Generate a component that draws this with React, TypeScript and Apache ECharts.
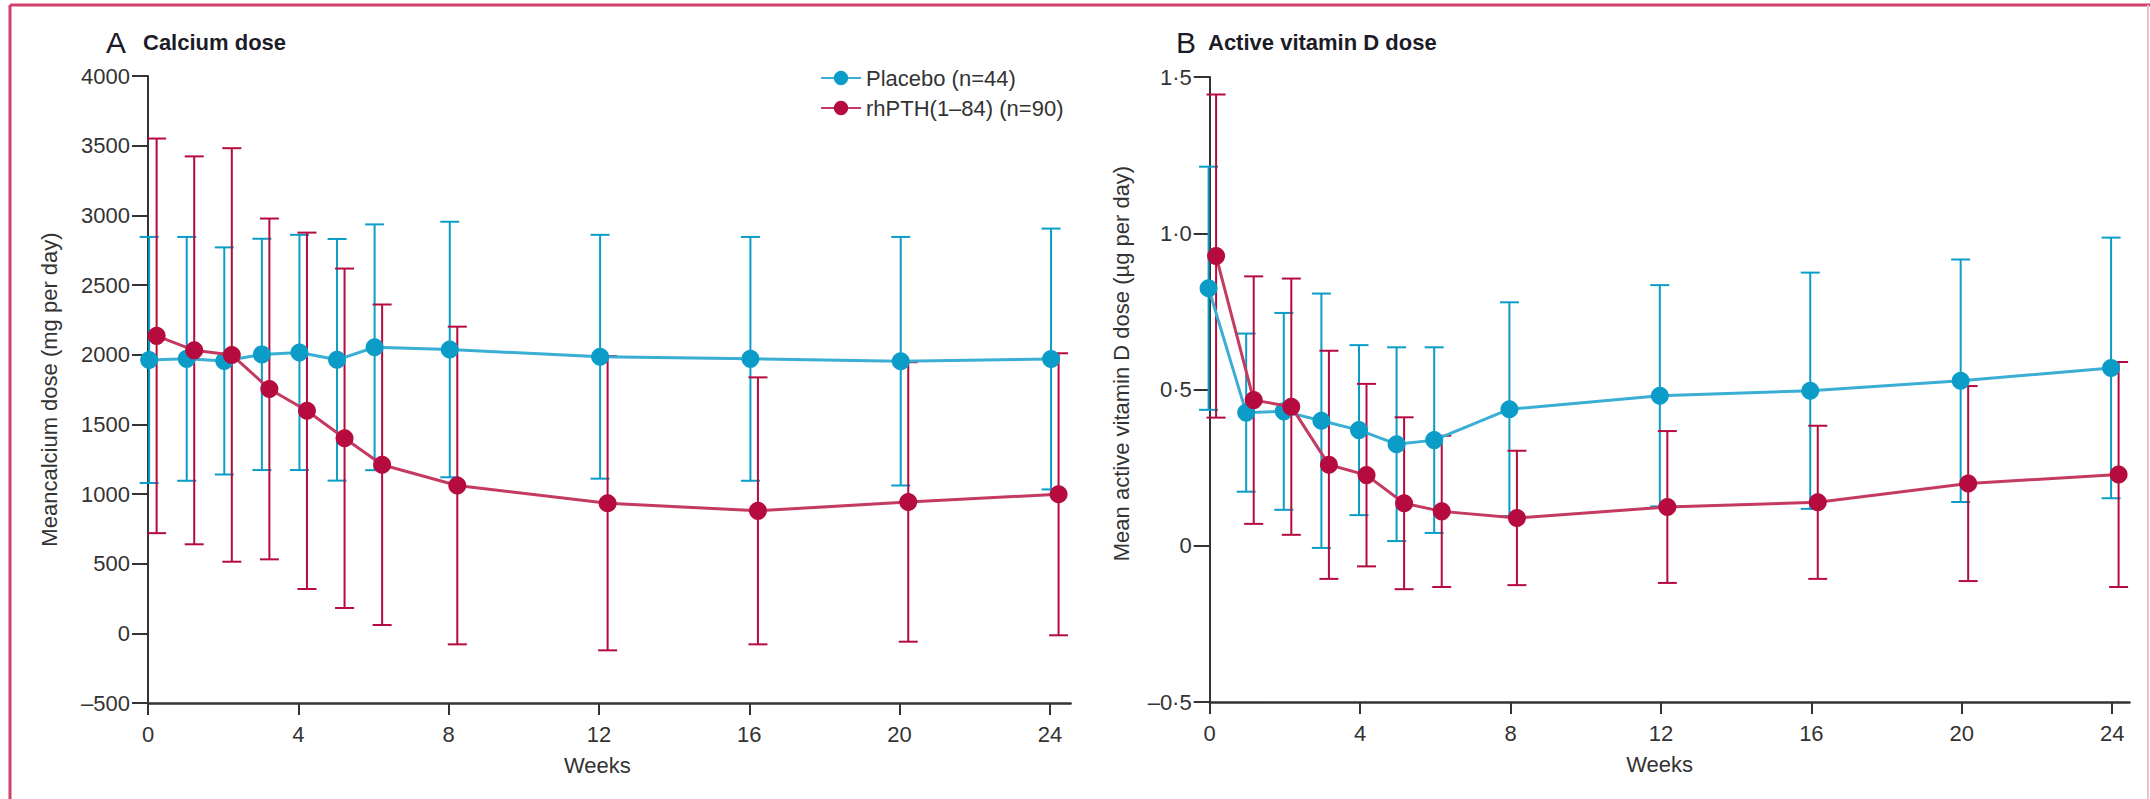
import React, { useEffect, useRef } from "react";
import * as echarts from "echarts";

// ---------- data ----------
const weeks = [0, 1, 2, 3, 4, 5, 6, 8, 12, 16, 20, 24];
const weekTicks = [0, 4, 8, 12, 16, 20, 24];

const placeboName = "Placebo (n=44)";
const rhName = "rhPTH(1–84) (n=90)";

// Panel A: calcium dose (mg per day), mean and SD
const calciumPlaceboMean = [1962, 1970, 1955, 2002, 2016, 1963, 2053, 2037, 1985, 1970, 1953, 1969];
const calciumPlaceboSD = [883, 875, 815, 830, 844, 867, 882, 917, 875, 875, 892, 936];
const calciumRhMean = [2135, 2031, 1998, 1754, 1597, 1400, 1210, 1061, 934, 879, 943, 998];
const calciumRhSD = [1416, 1392, 1484, 1223, 1279, 1218, 1150, 1140, 1056, 958, 1003, 1012];

// Panel B: active vitamin D dose (µg per day), mean and SD
const vitDPlaceboMean = [0.824, 0.426, 0.43, 0.4, 0.37, 0.325, 0.338, 0.437, 0.48, 0.496, 0.528, 0.569];
const vitDPlaceboSD = [0.389, 0.253, 0.315, 0.407, 0.272, 0.31, 0.297, 0.342, 0.354, 0.378, 0.388, 0.417];
const vitDRhMean = [0.927, 0.466, 0.445, 0.259, 0.226, 0.136, 0.11, 0.089, 0.124, 0.139, 0.199, 0.228];
const vitDRhSD = [0.517, 0.396, 0.41, 0.365, 0.292, 0.275, 0.242, 0.215, 0.243, 0.245, 0.312, 0.36];

// ---------- style ----------
const FONT = "'Liberation Sans', Arial, sans-serif";
const BLUE = "#0b9dc8";
const BLUE_LINE = "#3aaed4";
const RED = "#b50b3f";
const RED_LINE = "#c43a60";
const TEXT = "#333333";
const AXIS = "#333333";

const pts = (means: number[], off: number) => weeks.map((w, i) => [w + off, means[i]]);
const bars = (means: number[], sds: number[], off: number) =>
  weeks.map((w, i) => [w + off, means[i] - sds[i], means[i] + sds[i]]);

const errorRender = (color: string) => (params: any, api: any) => {
  const x = api.value(0);
  const lo = api.coord([x, api.value(1)]);
  const hi = api.coord([x, api.value(2)]);
  const half = 9.5;
  const style = { stroke: color, lineWidth: 2 };
  return {
    type: "group",
    children: [
      { type: "line", shape: { x1: lo[0], y1: lo[1], x2: hi[0], y2: hi[1] }, style },
      { type: "line", shape: { x1: hi[0] - half, y1: hi[1], x2: hi[0] + half, y2: hi[1] }, style },
      { type: "line", shape: { x1: lo[0] - half, y1: lo[1], x2: lo[0] + half, y2: lo[1] }, style },
    ],
  };
};

const fmtNum = (v: number, dec: number) => {
  if (Math.abs(v) < 1e-9) return "0";
  return v.toFixed(dec).replace(".", "·").replace("-", "–");
};

export default function App() {
  const ref = useRef<HTMLDivElement>(null);
  useEffect(() => {
    if (!ref.current) return;
    const chart = echarts.init(ref.current, null, { renderer: "svg" });

    const xAxisBase = (idx: number, max: number, padRight: number) => ({
      type: "value",
      gridIndex: idx,
      min: 0,
      max,
      interval: 4,
      name: "Weeks",
      nameLocation: "middle",
      nameGap: 51,
      nameTextStyle: { fontSize: 22, color: TEXT, fontFamily: FONT, padding: [0, padRight, 0, 0] },
      axisLine: { onZero: false, lineStyle: { color: AXIS, width: 2.5 } },
      axisTick: { show: true, length: 12, customValues: weekTicks, lineStyle: { color: AXIS, width: 2 } },
      axisLabel: { customValues: weekTicks, fontSize: 22, color: TEXT, fontFamily: FONT, margin: 20 },
      splitLine: { show: false },
    });

    const option: any = {
      animation: false,
      backgroundColor: "#ffffff",
      textStyle: { fontFamily: FONT },
      grid: [
        { left: 148, top: 76, width: 922.6, height: 627 },
        { left: 1209.7, top: 77, width: 919.8, height: 625 },
      ],
      xAxis: [xAxisBase(0, 24.55, 24), xAxisBase(1, 24.46, 20)],
      yAxis: [
        {
          type: "value",
          gridIndex: 0,
          min: -500,
          max: 4000,
          interval: 500,
          name: "Meancalcium dose (mg per day)",
          nameLocation: "middle",
          nameGap: 88,
          nameTextStyle: { fontSize: 22, color: TEXT, fontFamily: FONT },
          axisLine: { show: true, onZero: false, lineStyle: { color: AXIS, width: 2 } },
          axisTick: { show: true, length: 16, lineStyle: { color: AXIS, width: 2 } },
          axisLabel: { fontSize: 22, color: TEXT, fontFamily: FONT, margin: 18, formatter: (v: number) => fmtNum(v, 0) },
          splitLine: { show: false },
        },
        {
          type: "value",
          gridIndex: 1,
          min: -0.5,
          max: 1.5,
          interval: 0.5,
          name: "Mean active vitamin D dose (µg per day)",
          nameLocation: "middle",
          nameGap: 77,
          nameTextStyle: { fontSize: 22, color: TEXT, fontFamily: FONT, padding: [0, 0, 0, 52] },
          axisLine: { show: true, onZero: false, lineStyle: { color: AXIS, width: 2 } },
          axisTick: { show: true, length: 16, lineStyle: { color: AXIS, width: 2 } },
          axisLabel: { fontSize: 22, color: TEXT, fontFamily: FONT, margin: 18, formatter: (v: number) => fmtNum(v, 1) },
          splitLine: { show: false },
        },
      ],
      legend: {
        orient: "vertical",
        left: 815,
        top: 62,
        itemWidth: 40,
        itemHeight: 18,
        itemGap: 8,
        textStyle: { fontSize: 22, color: TEXT, fontFamily: FONT },
        data: [placeboName, rhName],
      },
      graphic: [
        { type: "line", shape: { x1: 10, y1: 5, x2: 2150, y2: 5 }, style: { stroke: "#d0416b", lineWidth: 3 }, silent: true },
        { type: "line", shape: { x1: 10, y1: 5, x2: 10, y2: 799 }, style: { stroke: "#d0416b", lineWidth: 3 }, silent: true },
        { type: "line", shape: { x1: 2148, y1: 5, x2: 2148, y2: 799 }, style: { stroke: "#ecc0cd", lineWidth: 2 }, silent: true },
        { type: "text", x: 106, y: 42, style: { text: "A", font: `30px ${FONT}`, fill: "#1c1c28", verticalAlign: "middle" } },
        { type: "text", x: 143, y: 42, style: { text: "Calcium dose", font: `bold 22px ${FONT}`, fill: "#1c1c28", verticalAlign: "middle" } },
        { type: "text", x: 1176, y: 42, style: { text: "B", font: `30px ${FONT}`, fill: "#1c1c28", verticalAlign: "middle" } },
        { type: "text", x: 1208, y: 42, style: { text: "Active vitamin D dose", font: `bold 22px ${FONT}`, fill: "#1c1c28", verticalAlign: "middle" } },
      ],
      series: [
        // mean lines (listed first so the legend takes its style from them)
        { type: "line", name: placeboName, xAxisIndex: 0, yAxisIndex: 0, z: 3, clip: false, symbol: "circle", symbolSize: 18, itemStyle: { color: BLUE }, lineStyle: { color: BLUE_LINE, width: 3 }, data: pts(calciumPlaceboMean, 0.03) },
        { type: "line", name: rhName, xAxisIndex: 0, yAxisIndex: 0, z: 4, clip: false, symbol: "circle", symbolSize: 18, itemStyle: { color: RED }, lineStyle: { color: RED_LINE, width: 3 }, data: pts(calciumRhMean, 0.23) },
        { type: "line", name: placeboName, xAxisIndex: 1, yAxisIndex: 1, z: 3, clip: false, symbol: "circle", symbolSize: 18, itemStyle: { color: BLUE }, lineStyle: { color: BLUE_LINE, width: 3 }, data: pts(vitDPlaceboMean, -0.03) },
        { type: "line", name: rhName, xAxisIndex: 1, yAxisIndex: 1, z: 4, clip: false, symbol: "circle", symbolSize: 18, itemStyle: { color: RED }, lineStyle: { color: RED_LINE, width: 3 }, data: pts(vitDRhMean, 0.17) },
        // error bars (mean ± SD)
        { type: "custom", name: "placebo-sd-A", xAxisIndex: 0, yAxisIndex: 0, z: 2, itemStyle: { color: BLUE }, renderItem: errorRender(BLUE), encode: { x: 0, y: [1, 2] }, data: bars(calciumPlaceboMean, calciumPlaceboSD, 0.03) },
        { type: "custom", name: "rh-sd-A", xAxisIndex: 0, yAxisIndex: 0, z: 2, itemStyle: { color: RED }, renderItem: errorRender(RED), encode: { x: 0, y: [1, 2] }, data: bars(calciumRhMean, calciumRhSD, 0.23) },
        { type: "custom", name: "placebo-sd-B", xAxisIndex: 1, yAxisIndex: 1, z: 2, itemStyle: { color: BLUE }, renderItem: errorRender(BLUE), encode: { x: 0, y: [1, 2] }, data: bars(vitDPlaceboMean, vitDPlaceboSD, -0.03) },
        { type: "custom", name: "rh-sd-B", xAxisIndex: 1, yAxisIndex: 1, z: 2, itemStyle: { color: RED }, renderItem: errorRender(RED), encode: { x: 0, y: [1, 2] }, data: bars(vitDRhMean, vitDRhSD, 0.17) },
      ],
    };

    chart.setOption(option);
    return () => chart.dispose();
  }, []);

  return (
    <div
      ref={ref}
      style={{ position: "absolute", left: 0, top: 0, width: 2150, height: 799, background: "#fff" }}
    />
  );
}
